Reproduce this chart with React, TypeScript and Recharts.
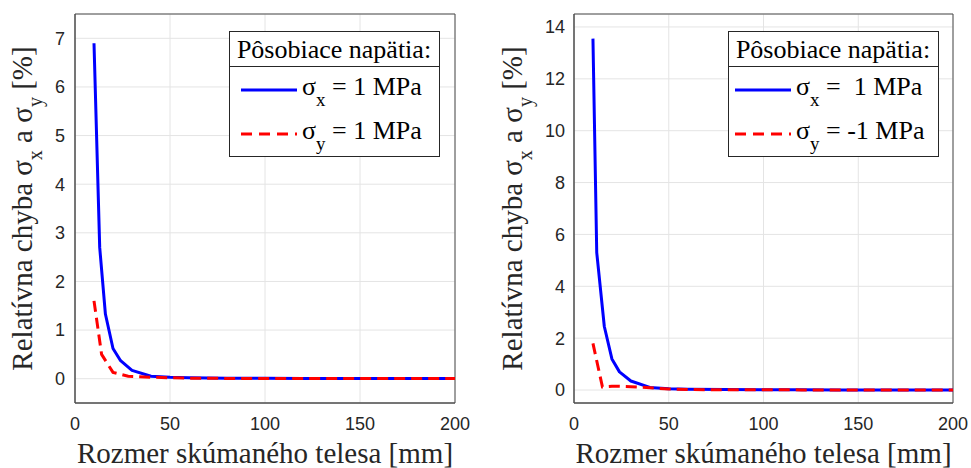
import React from 'react';
import { LineChart, Line, XAxis, YAxis, CartesianGrid, ReferenceArea, Legend } from 'recharts';

// x: rozmer telesa [mm], y: relativna chyba [%]
const xTicks = [0, 50, 100, 150, 200];

const sizeSxLeft = [10, 13, 16, 20, 24, 30, 40, 50, 60, 80, 100, 120, 140, 160, 180, 200];
const errSxLeft = [6.9, 2.7, 1.33, 0.62, 0.37, 0.17, 0.05, 0.03, 0.02, 0.01, 0.008, 0.006, 0.005, 0.004, 0.003, 0.003];
const sizeSyLeft = [10, 14, 20, 28, 40, 50, 60, 80, 100, 120, 140, 160, 180, 200];
const errSyLeft = [1.6, 0.5, 0.13, 0.05, 0.03, 0.02, 0.01, 0.006, 0.004, 0.003, 0.003, 0.002, 0.002, 0.002];
const yTicksLeft = [0, 1, 2, 3, 4, 5, 6, 7];

const sizeSxRight = [10, 12, 16, 20, 24, 30, 40, 50, 60, 80, 100, 120, 140, 160, 180, 200];
const errSxRight = [13.55, 5.3, 2.45, 1.2, 0.7, 0.35, 0.1, 0.05, 0.03, 0.02, 0.01, 0.008, 0.006, 0.005, 0.004, 0.004];
const sizeSyRight = [10, 15, 20, 30, 40, 50, 60, 80, 100, 120, 140, 160, 180, 200];
const errSyRight = [1.8, 0.12, 0.15, 0.13, 0.09, 0.04, 0.02, 0.01, 0.008, 0.006, 0.005, 0.004, 0.003, 0.003];
const yTicksRight = [0, 2, 4, 6, 8, 10, 12, 14];

const SERIF = '"Liberation Serif", "Times New Roman", serif';
const SANS = '"Liberation Sans", Arial, sans-serif';
const INK = '#262626';
const BOX = '#4d4d4d';
const GRID = '#e4e4e4';

const toPoints = (xs: number[], ys: number[]) => xs.map((x, i) => ({ x, y: ys[i] }));

const renderYTitle = (props: any) => {
  const vb = props.viewBox || { x: 0, y: 0, width: 0, height: 0 };
  const cx = vb.x + 32;
  const cy = vb.y + vb.height / 2;
  return (
    <text x={cx} y={cy} transform={`rotate(-90 ${cx} ${cy})`} textAnchor="middle"
      fontFamily={SERIF} fontSize={29} fill={INK}
      style={{ whiteSpace: 'pre', fontFamily: SERIF }}>
      Relatívna chyba σ
      <tspan fontSize={20} dy={10}>x</tspan>
      <tspan dy={-10}> a σ</tspan>
      <tspan fontSize={20} dy={10}>y</tspan>
      <tspan dy={-10}> [%]</tspan>
    </text>
  );
};

const renderXTitle = (props: any) => {
  const vb = props.viewBox || { x: 0, y: 0, width: 0, height: 0 };
  return (
    <text x={vb.x + vb.width / 2} y={vb.y + 60} textAnchor="middle"
      fontFamily={SERIF} fontSize={29} fill={INK} style={{ fontFamily: SERIF }}>
      Rozmer skúmaného telesa [mm]
    </text>
  );
};

type LegendRow = { color: string; dash?: string; sub: string; rest: string };

const LegendBox = ({ rows, lineX }: { rows: LegendRow[]; lineX: number }) => (
  <svg width={211} height={126} style={{ display: 'block' }}>
    <rect x={0.5} y={0.5} width={210} height={125} fill="#fff" stroke={INK} strokeWidth={1} />
    <text x={105} y={27} textAnchor="middle" fontFamily={SERIF} fontSize={26} fill="#000">
      Pôsobiace napätia:
    </text>
    <line x1={0.5} x2={210.5} y1={35.5} y2={35.5} stroke={INK} strokeWidth={1} />
    {rows.map((r, i) => {
      const ly = 59 + i * 44;
      return (
        <g key={i}>
          <line x1={lineX} x2={lineX + 56} y1={ly} y2={ly} stroke={r.color} strokeWidth={3}
            strokeDasharray={r.dash} />
          <text x={lineX + 61} y={ly + 5} fontFamily={SERIF} fontSize={26} fill="#000"
            style={{ whiteSpace: 'pre' }}>
            σ
            <tspan fontSize={19} dy={11}>{r.sub}</tspan>
            <tspan dy={-11}>{r.rest}</tspan>
          </text>
        </g>
      );
    })}
  </svg>
);

type PanelProps = {
  left: number;
  width: number;
  yAxisWidth: number;
  marginRight: number;
  yDomain: [number, number];
  yTicks: number[];
  tickGap: number;
  sx: { x: number; y: number }[];
  sy: { x: number; y: number }[];
  legendRows: LegendRow[];
  legendLeft: number;
  lineX: number;
};

const Panel = (p: PanelProps) => (
  <div style={{ position: 'absolute', left: p.left, top: 0 }}>
    <LineChart width={p.width} height={468}
      margin={{ top: 14, right: p.marginRight, bottom: 0, left: 0 }}>
      <CartesianGrid stroke={GRID} strokeWidth={1} />
      <XAxis type="number" dataKey="x" domain={[0, 200]} ticks={xTicks} height={65}
        tickLine={false} tickSize={0} tickMargin={14} axisLine={{ stroke: BOX }}
        tick={{ fontSize: 18, fill: INK, fontFamily: SANS }}
        label={{ content: renderXTitle }} />
      <YAxis type="number" domain={p.yDomain} ticks={p.yTicks} allowDataOverflow
        width={p.yAxisWidth} tickLine={false} tickSize={0} tickMargin={p.tickGap}
        axisLine={{ stroke: BOX }} tick={{ fontSize: 18, fill: INK, fontFamily: SANS }}
        label={{ content: renderYTitle }} />
      <Line data={p.sx} dataKey="y" type="linear" stroke="#0000ff" strokeWidth={3}
        dot={false} isAnimationActive={false} strokeLinejoin="round" name="sx" />
      <Line data={p.sy} dataKey="y" type="linear" stroke="#ff0000" strokeWidth={3}
        strokeDasharray="11 6" dot={false} isAnimationActive={false} name="sy" />
      <ReferenceArea x1={0} x2={200} y1={p.yDomain[0]} y2={p.yDomain[1]} fill="none"
        fillOpacity={0} stroke={BOX} strokeWidth={1} ifOverflow="visible" />
      <Legend layout="horizontal" verticalAlign="middle" align="center"
        wrapperStyle={{ left: p.legendLeft, top: 31, width: 211, height: 126 }}
        content={() => <LegendBox rows={p.legendRows} lineX={p.lineX} />} />
    </LineChart>
  </div>
);

const legendLeftRows: LegendRow[] = [
  { color: '#0000ff', sub: 'x', rest: ' = 1 MPa' },
  { color: '#ff0000', dash: '11 7', sub: 'y', rest: ' = 1 MPa' },
];
const legendRightRows: LegendRow[] = [
  { color: '#0000ff', sub: 'x', rest: ' =  1 MPa' },
  { color: '#ff0000', dash: '11 7', sub: 'y', rest: ' = -1 MPa' },
];

export default function App() {
  return (
    <div style={{ position: 'absolute', left: 0, top: 0, width: 971, height: 468, background: '#fff', overflow: 'hidden' }}>
      <Panel left={0} width={485} yAxisWidth={75} marginRight={30} yDomain={[-0.5, 7.5]}
        yTicks={yTicksLeft} tickGap={10} sx={toPoints(sizeSxLeft, errSxLeft)}
        sy={toPoints(sizeSyLeft, errSyLeft)} legendRows={legendLeftRows} legendLeft={229} lineX={12} />
      <Panel left={490} width={481} yAxisWidth={84} marginRight={18} yDomain={[-0.5, 14.5]}
        yTicks={yTicksRight} tickGap={9} sx={toPoints(sizeSxRight, errSxRight)}
        sy={toPoints(sizeSyRight, errSyRight)} legendRows={legendRightRows} legendLeft={238} lineX={7} />
    </div>
  );
}
